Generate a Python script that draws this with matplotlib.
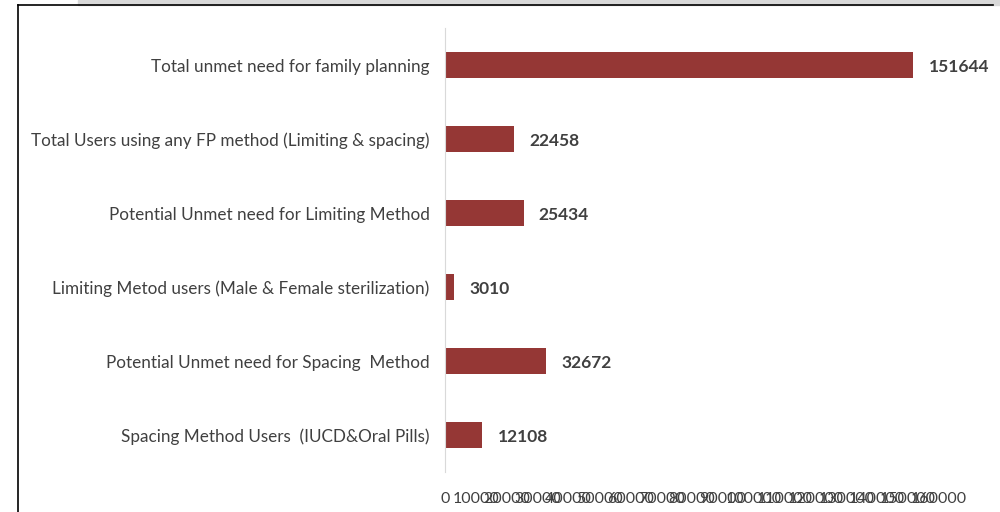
import numpy as np
import matplotlib.pyplot as plt
from matplotlib.lines import Line2D
from matplotlib.patches import Rectangle

# categories, top to bottom as shown on the chart
categories = [
    'Total unmet need for family planning',
    'Total Users using any FP method (Limiting & spacing)',
    'Potential Unmet need for Limiting Method',
    'Limiting Metod users (Male & Female sterilization)',
    'Potential Unmet need for Spacing  Method',
    'Spacing Method Users  (IUCD&Oral Pills)',
]
values = [151644, 22458, 25434, 3010, 32672, 12108]
xticks = list(range(0, 160001, 10000))

plt.rcParams['font.family'] = ['Lato', 'DejaVu Sans']

fig = plt.figure(figsize=(10, 5.12), dpi=100)
ax = fig.add_axes([0.445, 0.078, 0.494, 0.867])

y = np.arange(len(categories))
ax.barh(y, values, height=0.35, color='#953735')
ax.set_ylim(len(categories) - 0.5, -0.5)
ax.set_xlim(0, 160000)

ax.set_yticks(y)
ax.set_yticklabels(categories, fontsize=12.3, color='#404040')
ax.set_xticks(xticks)
ax.set_xticklabels([str(t) for t in xticks], fontsize=11.5, color='#404040')
ax.tick_params(axis='y', length=0, pad=11)
ax.tick_params(axis='x', length=0, pad=14)

for s in ['top', 'right', 'bottom']:
    ax.spines[s].set_visible(False)
ax.spines['left'].set_color('#d9d9d9')

for yi, v in zip(y, values):
    ax.annotate(str(v), (v, yi), xytext=(11, -1.5), textcoords='offset points',
                va='center', ha='left', fontsize=12.5, fontweight='bold',
                color='#404040', annotation_clip=False)

# frame from the source document
fig.patches.append(Rectangle((0.078, 0.99), 0.922, 0.01, transform=fig.transFigure,
                             color='#d9d9d9', zorder=0))
fig.lines.append(Line2D([0.018, 0.018], [0.0, 0.99], transform=fig.transFigure,
                        color='black', lw=1.2))
fig.lines.append(Line2D([0.018, 0.993], [0.99, 0.99], transform=fig.transFigure,
                        color='black', lw=1.2))

fig.savefig('out.png', dpi=100)
